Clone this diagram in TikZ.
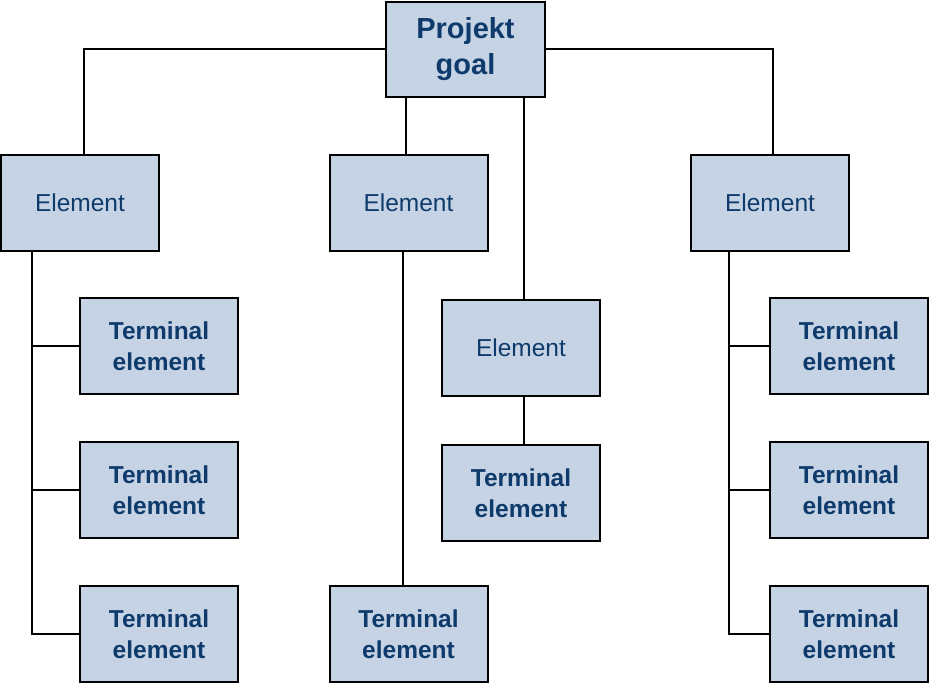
\documentclass[tikz,border=0pt]{standalone}
\usepackage{fontspec}
\setmainfont{Liberation Sans}
\definecolor{boxfill}{HTML}{C6D3E4}
\definecolor{boxtext}{HTML}{0E3B6C}
\begin{document}
\begin{tikzpicture}[x=1pt, y=-1pt, line width=1.8pt,
    box/.style={draw=black, line width=2pt, fill=boxfill, text=boxtext, align=center,
      minimum width=158pt, minimum height=96pt, inner sep=0pt},
    elem/.style={box, font=\fontsize{24.5}{31}\selectfont},
    term/.style={box, font=\fontsize{24.5}{31}\selectfont\bfseries},
    goal/.style={box, minimum width=159pt, minimum height=95pt, font=\fontsize{29}{36}\selectfont\bfseries}]
    \useasboundingbox (0,0) rectangle (930,683);
    % boxes
    \node[goal] (goal) at (465.5,49) {Projekt\\goal};
    \node[elem] (el1) at (80,202.5) {Element};
    \node[elem] (el2) at (408.5,202.5) {Element};
    \node[elem] (el3) at (521,348) {Element};
    \node[elem] (el4) at (770,202.5) {Element};
    \node[term] (t11) at (159,346) {Terminal\\element};
    \node[term] (t12) at (159,490) {Terminal\\element};
    \node[term] (t13) at (159,634) {Terminal\\element};
    \node[term] (t2) at (408.5,634) {Terminal\\element};
    \node[term] (t3) at (521,493) {Terminal\\element};
    \node[term] (t41) at (849,346) {Terminal\\element};
    \node[term] (t42) at (849,490) {Terminal\\element};
    \node[term] (t43) at (849,634) {Terminal\\element};
    % top level
    \draw (goal.west) -| ([xshift=4pt]el1.north);
    \draw (goal.east) -| ([xshift=3pt]el4.north);
    \draw ([xshift=-2.5pt]el2.north |- goal.south) -- ([xshift=-2.5pt]el2.north);
    \draw ([xshift=3pt]el3.north |- goal.south) -- ([xshift=3pt]el3.north);
    % left branch
    \coordinate (spL) at ([xshift=-48pt]el1.south);
    \draw (spL) |- (t13.west);
    \draw (spL |- t11.west) -- (t11.west);
    \draw (spL |- t12.west) -- (t12.west);
    % middle
    \draw ([xshift=-5.5pt]el2.south) -- ([xshift=-5.5pt]t2.north);
    \draw ([xshift=3pt]el3.south) -- ([xshift=3pt]t3.north);
    % right branch
    \coordinate (spR) at ([xshift=-41pt]el4.south);
    \draw (spR) |- (t43.west);
    \draw (spR |- t41.west) -- (t41.west);
    \draw (spR |- t42.west) -- (t42.west);
\end{tikzpicture}
\end{document}
